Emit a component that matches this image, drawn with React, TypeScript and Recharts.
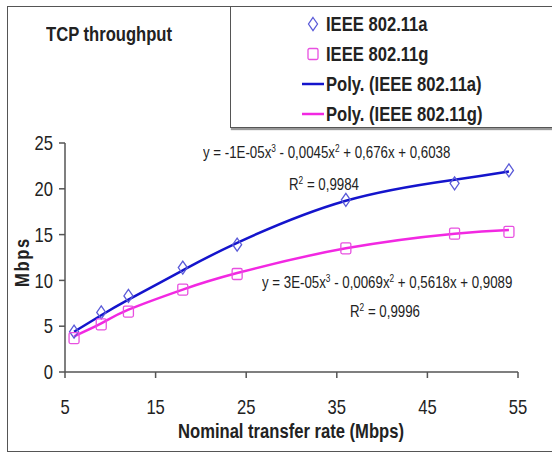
import React from "react";
import { ComposedChart, Line, Scatter, XAxis, YAxis } from "recharts";

const rates = [6, 9, 12, 18, 24, 36, 48, 54];
const ieee11a = [4.4, 6.5, 8.3, 11.4, 13.9, 18.8, 20.6, 22.0];
const ieee11g = [3.7, 5.2, 6.6, 9.0, 10.7, 13.5, 15.1, 15.3];
// polynomial trend lines as drawn in the figure
const polyA = [4.4, 6.2, 7.9, 11.1, 14.1, 18.7, 21.0, 21.9];
const polyG = [3.9, 5.3, 6.8, 9.0, 10.8, 13.5, 15.1, 15.5];

const xTicks = [5, 15, 25, 35, 45, 55];
const yTicks = [0, 5, 10, 15, 20, 25];

const BLUE = "#1414cc";
const PINK = "#f228e2";
const DIAMOND = "#5a5ad8";
const SQUARE = "#e850e0";
const AXIS = "#555";
const TEXT = "#222";
const FONT = '"Liberation Sans", Arial, sans-serif';
const SQUEEZE = 0.83; // the original figure is horizontally condensed

const toPoints = (ys: number[]) => rates.map((x, i) => ({ x, y: ys[i] }));

function Diamond({ cx, cy }: { cx?: number; cy?: number }) {
  if (cx == null || cy == null) return null;
  return (
    <polygon
      points={`${cx},${cy - 6.5} ${cx + 4.5},${cy} ${cx},${cy + 6.5} ${cx - 4.5},${cy}`}
      fill="none"
      stroke={DIAMOND}
      strokeWidth={1.3}
    />
  );
}

function Square({ cx, cy }: { cx?: number; cy?: number }) {
  if (cx == null || cy == null) return null;
  return (
    <rect x={cx - 5} y={cy - 5.5} width={10} height={11} rx={1.5} fill="none" stroke={SQUARE} strokeWidth={1.3} />
  );
}

function XTick({ x, y, payload }: any) {
  return (
    <g transform={`translate(${x},${y}) scale(${SQUEEZE},1)`}>
      <text x={0} y={0} dy="0.71em" textAnchor="middle" fontFamily={FONT} fontSize={20} fill={TEXT}>
        {payload.value}
      </text>
    </g>
  );
}

function YTick({ x, y, payload }: any) {
  return (
    <g transform={`translate(${x},${y}) scale(${SQUEEZE},1)`}>
      <text x={0} y={0} dy="0.355em" textAnchor="end" fontFamily={FONT} fontSize={20} fill={TEXT}>
        {payload.value}
      </text>
    </g>
  );
}

const squeezed: React.CSSProperties = {
  position: "absolute",
  fontFamily: FONT,
  color: TEXT,
  whiteSpace: "nowrap",
  transform: `scaleX(${SQUEEZE})`,
  transformOrigin: "left center",
};

function LegendRow({ top, icon, label }: { top: number; icon: React.ReactNode; label: string }) {
  return (
    <>
      <svg style={{ position: "absolute", left: 300, top: top - 12 }} width={25} height={24}>
        {icon}
      </svg>
      <div style={{ ...squeezed, left: 326, top: top - 12, lineHeight: "24px", fontSize: 20, fontWeight: "bold" }}>
        {label}
      </div>
    </>
  );
}

const eqStyle: React.CSSProperties = { ...squeezed, fontSize: 16, lineHeight: "16px" };
const supStyle: React.CSSProperties = { fontSize: 10, verticalAlign: "6px", lineHeight: 0 };

export default function App() {
  return (
    <div style={{ position: "absolute", left: 0, top: 0, width: 552, height: 455, background: "#fff", overflow: "hidden" }}>
      {/* outer frame */}
      <div
        style={{
          position: "absolute",
          left: 7,
          top: 6,
          width: 560,
          height: 444,
          border: `1.5px solid ${AXIS}`,
        }}
      />
      {/* legend box */}
      <div
        style={{
          position: "absolute",
          left: 230,
          top: 6,
          width: 340,
          height: 120,
          border: `1.5px solid ${AXIS}`,
          boxShadow: "1px 2px 1px #999",
          background: "#fff",
        }}
      />
      <div style={{ ...squeezed, left: 46, top: 22, fontWeight: "bold", fontSize: 20, lineHeight: "24px" }}>
        TCP throughput
      </div>
      <LegendRow top={24} label="IEEE 802.11a" icon={<Diamond cx={13} cy={12} />} />
      <LegendRow top={54} label="IEEE 802.11g" icon={<Square cx={13} cy={12} />} />
      <LegendRow
        top={84}
        label="Poly. (IEEE 802.11a)"
        icon={<line x1={2} x2={24} y1={12} y2={12} stroke={BLUE} strokeWidth={2.5} />}
      />
      <LegendRow
        top={114}
        label="Poly. (IEEE 802.11g)"
        icon={<line x1={2} x2={24} y1={12} y2={12} stroke={PINK} strokeWidth={2.5} />}
      />

      <div style={{ position: "absolute", left: 0, top: 0 }}>
        <ComposedChart width={552} height={455} margin={{ top: 143, right: 34, bottom: 53, left: 20 }}>
          <XAxis
            dataKey="x"
            type="number"
            domain={[5, 55]}
            ticks={xTicks}
            height={30}
            tickMargin={22}
            tick={<XTick />}
            axisLine={{ stroke: AXIS, strokeWidth: 1.5 }}
            tickLine={{ stroke: AXIS, strokeWidth: 1.5 }}
          />
          <YAxis
            type="number"
            domain={[0, 25]}
            ticks={yTicks}
            width={45}
            tickMargin={6}
            tick={<YTick />}
            axisLine={{ stroke: AXIS, strokeWidth: 1.5 }}
            tickLine={{ stroke: AXIS, strokeWidth: 1.5 }}
          />
          <Scatter name="IEEE 802.11a" data={toPoints(ieee11a)} dataKey="y" shape={<Diamond />} isAnimationActive={false} />
          <Scatter name="IEEE 802.11g" data={toPoints(ieee11g)} dataKey="y" shape={<Square />} isAnimationActive={false} />
          <Line
            name="Poly. (IEEE 802.11a)"
            data={toPoints(polyA)}
            dataKey="y"
            type="natural"
            stroke={BLUE}
            strokeWidth={2.5}
            dot={false}
            isAnimationActive={false}
          />
          <Line
            name="Poly. (IEEE 802.11g)"
            data={toPoints(polyG)}
            dataKey="y"
            type="natural"
            stroke={PINK}
            strokeWidth={2.5}
            dot={false}
            isAnimationActive={false}
          />
        </ComposedChart>
      </div>

      {/* trend line equations */}
      <div style={{ ...eqStyle, left: 203, top: 145 }}>
        y = -1E-05x<sup style={supStyle}>3</sup> - 0,0045x<sup style={supStyle}>2</sup> + 0,676x + 0,6038
      </div>
      <div style={{ ...eqStyle, left: 289, top: 177 }}>
        R<sup style={supStyle}>2</sup> = 0,9984
      </div>
      <div style={{ ...eqStyle, left: 262, top: 275 }}>
        y = 3E-05x<sup style={supStyle}>3</sup> - 0,0069x<sup style={supStyle}>2</sup> + 0,5618x + 0,9089
      </div>
      <div style={{ ...eqStyle, left: 350, top: 304 }}>
        R<sup style={supStyle}>2</sup> = 0,9996
      </div>

      {/* axis titles */}
      <div style={{ ...squeezed, left: 178, top: 419, fontWeight: "bold", fontSize: 20, lineHeight: "24px" }}>
        Nominal transfer rate (Mbps)
      </div>
      <div
        style={{
          position: "absolute",
          left: 22,
          top: 262,
          transform: `translate(-50%, -50%) rotate(-90deg) scaleX(${SQUEEZE})`,
          fontFamily: FONT,
          fontWeight: "bold",
          fontSize: 20,
          lineHeight: "22px",
          color: TEXT,
          whiteSpace: "nowrap",
          letterSpacing: 2,
        }}
      >
        Mbps
      </div>
    </div>
  );
}
